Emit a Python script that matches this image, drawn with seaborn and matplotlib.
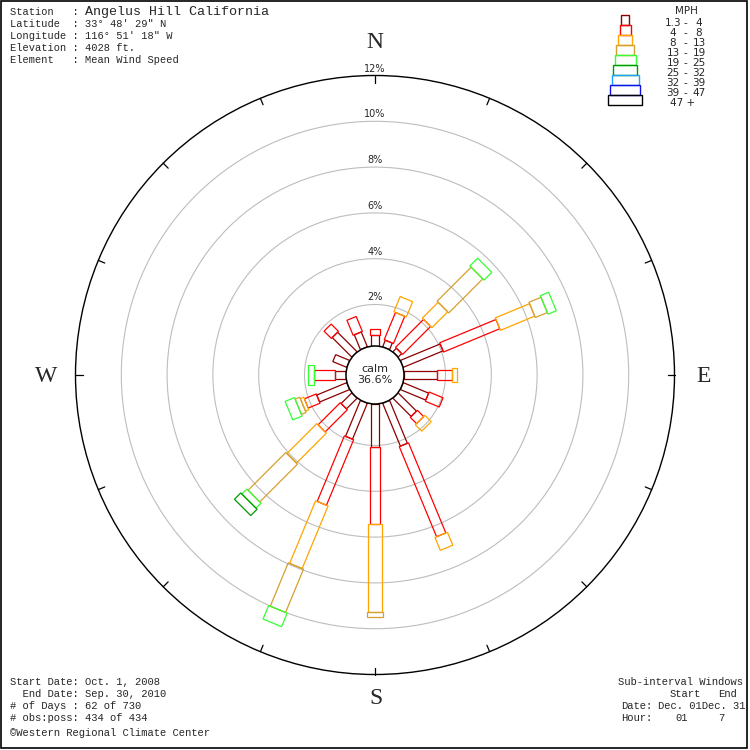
"Wind rose for Angelus Hill California"
import numpy as np
import pandas as pd
import matplotlib
matplotlib.use("Agg")
import matplotlib.pyplot as plt
from matplotlib.patches import Polygon, Circle, Rectangle
import seaborn as sns

# 16 compass directions, degrees clockwise from north
directions = [0, 22.5, 45, 67.5, 90, 112.5, 135, 157.5,
              180, 202.5, 225, 247.5, 270, 292.5, 315, 337.5]

speed_classes = ["1.3 - 4", "4 - 8", "8 - 13", "13 - 19", "19 - 25",
                 "25 - 32", "32 - 39", "39 - 47", "47 +"]
class_colors = ["#8b0000", "#ff0000", "#ffa500", "#d4a030", "#33ff33",
                "#009900", "#1ea0ff", "#1010e0", "#000000"]

# percent of all observations, one list per speed class (same order as directions)
freq_1_4 = [0.48, 0.31, 0.22, 1.88, 1.43, 1.20, 1.13, 2.03,
            1.86, 1.70, 0.66, 1.42, 0.48, 0.66, 1.21, 0.70]
freq_4_8 = [0.25, 1.29, 1.73, 2.66, 0.66, 0.66, 0.39, 4.26,
            3.39, 3.10, 1.37, 0.56, 0.92, 0.00, 0.45, 0.71]
freq_8_13 = [0.00, 0.72, 0.98, 1.62, 0.22, 0.00, 0.39, 0.61,
             3.84, 2.96, 1.85, 0.16, 0.00, 0.00, 0.00, 0.00]
freq_13_19 = [0.00, 0.00, 2.10, 0.57, 0.00, 0.00, 0.00, 0.00,
              0.22, 2.05, 2.33, 0.22, 0.00, 0.00, 0.00, 0.00]
freq_19_25 = [0.00, 0.00, 0.48, 0.39, 0.00, 0.00, 0.00, 0.00,
              0.00, 0.64, 0.31, 0.44, 0.26, 0.00, 0.00, 0.00]
freq_25_32 = [0.00, 0.00, 0.00, 0.00, 0.00, 0.00, 0.00, 0.00,
              0.00, 0.00, 0.39, 0.00, 0.00, 0.00, 0.00, 0.00]
freq_32_39 = [0.0] * 16
freq_39_47 = [0.0] * 16
freq_47_up = [0.0] * 16

calm_pct = 36.6
ring_pcts = [2, 4, 6, 8, 10, 12]

header_lines = ["Latitude  : 33\u00b0 48' 29\" N",
                "Longitude : 116\u00b0 51' 18\" W",
                "Elevation : 4028 ft.",
                "Element   : Mean Wind Speed"]
footer_lines = ["Start Date: Oct. 1, 2008",
                "  End Date: Sep. 30, 2010",
                "# of Days : 62 of 730",
                "# obs:poss: 434 of 434"]

# long table of petal segments
freqs = [freq_1_4, freq_4_8, freq_8_13, freq_13_19, freq_19_25,
         freq_25_32, freq_32_39, freq_39_47, freq_47_up]
rows = []
for ci, cls in enumerate(speed_classes):
    for d, v in zip(directions, freqs[ci]):
        rows.append({"direction": d, "speed": cls, "cls": ci, "pct": v})
df = pd.DataFrame(rows)
df["start"] = df.groupby("direction")["pct"].cumsum() - df["pct"]

sns.set_style("white")
palette = sns.color_palette(class_colors)

PX = 22.9                 # pixels per percent
ring_base = 24.7 / PX     # radius of the 0% ring
calm_r = 29 / PX          # calm circle radius, petals start here
widths_px = [7.5, 10, 13.5, 16.5, 20, 23, 26, 29.5, 32.5]

fig = plt.figure(figsize=(7.5, 7.5), dpi=100)
ax = fig.add_axes([0, 0, 1, 1])
half = 375 / PX
ax.set_xlim(-half, half)
ax.set_ylim(-half, half)
ax.set_aspect("equal")
ax.axis("off")

# rings
for p in ring_pcts:
    r = ring_base + p
    outer = p == ring_pcts[-1]
    ax.add_patch(Circle((0, 0), r, fill=False,
                        ec="black" if outer else "#bdbdbd",
                        lw=1.0 if outer else 0.8, zorder=1))
    ax.text(0, r + 2 / PX, f"{p}%", ha="center", va="bottom",
            fontsize=7, family="DejaVu Sans", zorder=3)

# ticks on the outer circle
outer_r = ring_base + ring_pcts[-1]
for d in directions:
    t = np.radians(d)
    ax.plot([outer_r * np.sin(t), (outer_r - 7 / PX) * np.sin(t)],
            [outer_r * np.cos(t), (outer_r - 7 / PX) * np.cos(t)],
            color="black", lw=0.9, zorder=2)

# petals
for _, row in df[df["pct"] > 0].iterrows():
    t = np.radians(row["direction"])
    u = np.array([np.sin(t), np.cos(t)])
    v = np.array([np.cos(t), -np.sin(t)])
    r1 = calm_r + row["start"]
    r2 = r1 + row["pct"]
    hw = widths_px[row["cls"]] / 2 / PX
    pts = [r1 * u + hw * v, r2 * u + hw * v, r2 * u - hw * v, r1 * u - hw * v]
    ax.add_patch(Polygon(pts, closed=True, fill=False,
                         ec=palette[row["cls"]], lw=0.9, zorder=4))

# calm circle
ax.add_patch(Circle((0, 0), calm_r, fc="white", ec="black", lw=1.1, zorder=5))
ax.text(0, 0.03, "calm", ha="center", va="bottom", fontsize=8,
        family="DejaVu Sans", zorder=6)
ax.text(0, 0.0, f"{calm_pct}%", ha="center", va="top", fontsize=8,
        family="DejaVu Sans", zorder=6)

# compass letters
for lab, (px, py) in {"N": (375, 42), "E": (704, 376),
                      "S": (376, 698), "W": (46, 376)}.items():
    fig.text(px / 750, 1 - py / 750, lab, ha="center", va="center",
             fontsize=17, family="Liberation Serif")

# header text
mono = "Liberation Mono"
fig.text(10 / 750, 1 - 12 / 750, "Station   : ", ha="left", va="center",
         fontsize=7.5, family=mono)
fig.text(85 / 750, 1 - 12 / 750, "Angelus Hill California", ha="left",
         va="center", fontsize=9.6, family=mono)
for i, line in enumerate(header_lines):
    fig.text(10 / 750, 1 - (24 + 12 * i) / 750, line, ha="left",
             va="center", fontsize=7.5, family=mono)

# footer text
for i, line in enumerate(footer_lines):
    fig.text(10 / 750, 1 - (682 + 12 * i) / 750, line, ha="left",
             va="center", fontsize=7.6, family=mono)
fig.text(10 / 750, 1 - 733 / 750, "\u00a9Western Regional Climate Center",
         ha="left", va="center", fontsize=7.6, family=mono)

fig.text(618 / 750, 1 - 682 / 750, "Sub-interval Windows", ha="left",
         va="center", fontsize=7.6, family=mono)
fig.text(670 / 750, 1 - 694 / 750, "Start", ha="left", va="center",
         fontsize=7.6, family=mono)
fig.text(718 / 750, 1 - 694 / 750, "End", ha="left", va="center",
         fontsize=7.6, family=mono)
fig.text(621 / 750, 1 - 706 / 750, "Date:", ha="left", va="center",
         fontsize=7.6, family=mono)
fig.text(658 / 750, 1 - 706 / 750, "Dec. 01Dec. 31", ha="left",
         va="center", fontsize=7.6, family=mono)
fig.text(621 / 750, 1 - 718 / 750, "Hour:", ha="left", va="center",
         fontsize=7.6, family=mono)
fig.text(675 / 750, 1 - 718 / 750, "01", ha="left", va="center",
         fontsize=7.6, family=mono)
fig.text(718 / 750, 1 - 718 / 750, "7", ha="left", va="center",
         fontsize=7.6, family=mono)

# legend (speed classes as stacked boxes)
lab_font = "DejaVu Sans"
fig.text(686 / 750, 1 - 11 / 750, "MPH", ha="center", va="center",
         fontsize=7.5, family=lab_font)
for i, cls in enumerate(speed_classes):
    w = widths_px[i] + 1
    top = 15 + 10 * i
    fig.patches.append(Rectangle(((625 - w / 2) / 750, 1 - (top + 10) / 750),
                                 w / 750, 10 / 750, fill=False,
                                 ec=palette[i], lw=1.0,
                                 transform=fig.transFigure, figure=fig))
    yc = 1 - (top + 8) / 750
    if "-" in cls:
        lo, hi = [s.strip() for s in cls.split("-")]
        fig.text(673 / 750, yc, lo, ha="center", va="center",
                 fontsize=7.5, family=lab_font)
        fig.text(685 / 750, yc, "-", ha="center", va="center",
                 fontsize=7.5, family=lab_font)
        fig.text(699 / 750, yc, hi, ha="center", va="center",
                 fontsize=7.5, family=lab_font)
    else:
        fig.text(683 / 750, yc, cls, ha="center", va="center",
                 fontsize=7.5, family=lab_font)

# frame around the whole picture
fig.patches.append(Rectangle((1 / 750, 2 / 750), 746 / 750, 747 / 750,
                             fill=False, ec="black", lw=1.2,
                             transform=fig.transFigure, figure=fig))

fig.savefig("out.png", dpi=100)
